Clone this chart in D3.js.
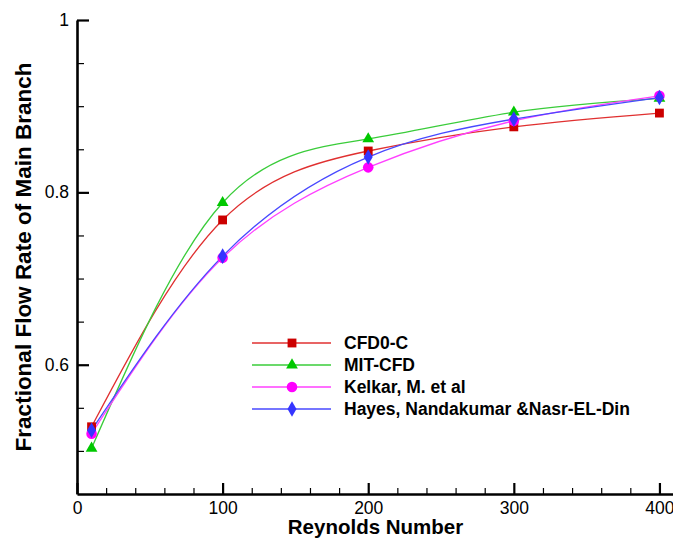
<!DOCTYPE html>
<html>
<head>
<meta charset="utf-8">
<script src="https://cdn.jsdelivr.net/npm/d3@7"></script>
<style>
  body { margin: 0; background: #fff; }
  svg { display: block; font-family: "Liberation Sans", Arial, sans-serif; }
</style>
</head>
<body>
<div id="chart"></div>
<script>
const chartWidth = 673;
const chartHeight = 538;

// data
const reynolds = [10, 100, 200, 300, 400];
const cfd0c = [0.528, 0.768, 0.848, 0.876, 0.892];
const mitCfd = [0.503, 0.788, 0.862, 0.893, 0.909];
const kelkar = [0.520, 0.724, 0.829, 0.883, 0.912];
const hayes = [0.524, 0.726, 0.841, 0.885, 0.910];

const seriesNames = ["CFD0-C", "MIT-CFD", "Kelkar, M. et al", "Hayes, Nandakumar &Nasr-EL-Din"];
const xMajorTicks = [0, 100, 200, 300, 400];
const xMinorTicks = [20, 40, 60, 80, 120, 140, 160, 180, 220, 240, 260, 280, 320, 340, 360, 380];
const yMajorTicks = [0.6, 0.8, 1];
const yMinorTicks = [0.5, 0.55, 0.65, 0.7, 0.75, 0.85, 0.9, 0.95];

const series = [
    { name: seriesNames[0], values: cfd0c, line: "#e03030", fill: "#cc0000", symbol: d3.symbolSquare, size: 78 },
    { name: seriesNames[1], values: mitCfd, line: "#3acc3a", fill: "#00c800", symbol: d3.symbolTriangle, size: 60 },
    { name: seriesNames[2], values: kelkar, line: "#ff40ff", fill: "#ff00ff", symbol: d3.symbolCircle, size: 88 },
    { name: seriesNames[3], values: hayes, line: "#4848ff", fill: "#3535ff", symbol: d3.symbolDiamond, size: 70 }
]

const svg = d3.select("#chart").append("svg")
    .attr("width", chartWidth)
    .attr("height", chartHeight)

// the scales
let x = d3.scaleLinear().domain([0, 410]).range([77, 674])
let y = d3.scaleLinear().domain([0.45, 1]).range([494, 20])

// minor ticks first, then the major axes on top
svg.append("g")
    .attr("transform", `translate(0, ${y(0.45)})`)
    .call(d3.axisBottom(x).tickValues(xMinorTicks).tickSize(-6).tickFormat(""))
    .call(g => g.select(".domain").remove())
    .selectAll("line").attr("stroke-width", 1.2)

svg.append("g")
    .attr("transform", `translate(${x(0)}, 0)`)
    .call(d3.axisLeft(y).tickValues(yMinorTicks).tickSize(-7).tickFormat(""))
    .call(g => g.select(".domain").remove())
    .selectAll("line").attr("stroke-width", 1.2)

let xAxis = svg.append("g")
    .attr("transform", `translate(0, ${y(0.45)})`)
    .call(d3.axisBottom(x).tickValues(xMajorTicks).tickSize(-11).tickSizeOuter(0).tickPadding(8).tickFormat(d3.format("d")))

let yAxis = svg.append("g")
    .attr("transform", `translate(${x(0)}, 0)`)
    .call(d3.axisLeft(y).tickValues(yMajorTicks).tickSize(-12).tickSizeOuter(0).tickPadding(8).tickFormat(d => d3.format("~g")(d)))

for (const ax of [xAxis, yAxis]) {
    ax.select(".domain").attr("stroke-width", 2.6)
    ax.selectAll(".tick line").attr("stroke-width", 2.2)
    ax.selectAll(".tick text")
        .attr("font-family", "Liberation Sans, Arial, sans-serif")
        .attr("font-size", 17.5)
        .attr("fill", "#000")
}

// axis titles
svg.append("text")
    .attr("x", (x.range()[0] + x.range()[1]) / 2)
    .attr("y", 533.5)
    .attr("text-anchor", "middle")
    .attr("font-size", 20.5)
    .attr("font-weight", "bold")
    .text("Reynolds Number")

svg.append("text")
    .attr("transform", `translate(31, ${(y.range()[0] + y.range()[1]) / 2}) rotate(-90)`)
    .attr("text-anchor", "middle")
    .attr("font-size", 22.5)
    .attr("font-weight", "bold")
    .text("Fractional Flow Rate of Main Branch")

// curves
let line = d3.line()
    .x((d, i) => x(reynolds[i]))
    .y(d => y(d))
    .curve(d3.curveNatural)

svg.append("g")
    .selectAll("path")
    .data(series)
    .enter()
    .append("path")
    .attr("d", d => line(d.values))
    .attr("fill", "none")
    .attr("stroke", d => d.line)
    .attr("stroke-width", 1.3)

// markers, drawn series by series so the later ones sit on top
series.forEach(s => {
    svg.append("g")
        .selectAll("path")
        .data(s.values)
        .enter()
        .append("path")
        .attr("transform", (d, i) => `translate(${x(reynolds[i])}, ${y(d)})`)
        .attr("d", d3.symbol().type(s.symbol).size(s.size))
        .attr("fill", s.fill)
})

// legend
const legendX = 252, legendTop = 343, legendStep = 22
let legend = svg.append("g")
    .selectAll("g")
    .data(series)
    .enter()
    .append("g")
    .attr("transform", (d, i) => `translate(${legendX}, ${legendTop + i * legendStep})`)

legend.append("line")
    .attr("x1", 0)
    .attr("x2", 79)
    .attr("stroke", d => d.line)
    .attr("stroke-width", 1.3)

legend.append("path")
    .attr("transform", "translate(40, 0)")
    .attr("d", d => d3.symbol().type(d.symbol).size(d.size)())
    .attr("fill", d => d.fill)

legend.append("text")
    .attr("x", 92)
    .attr("dy", "0.36em")
    .attr("font-size", 17.5)
    .attr("font-weight", "bold")
    .text(d => d.name)
</script>
</body>
</html>
